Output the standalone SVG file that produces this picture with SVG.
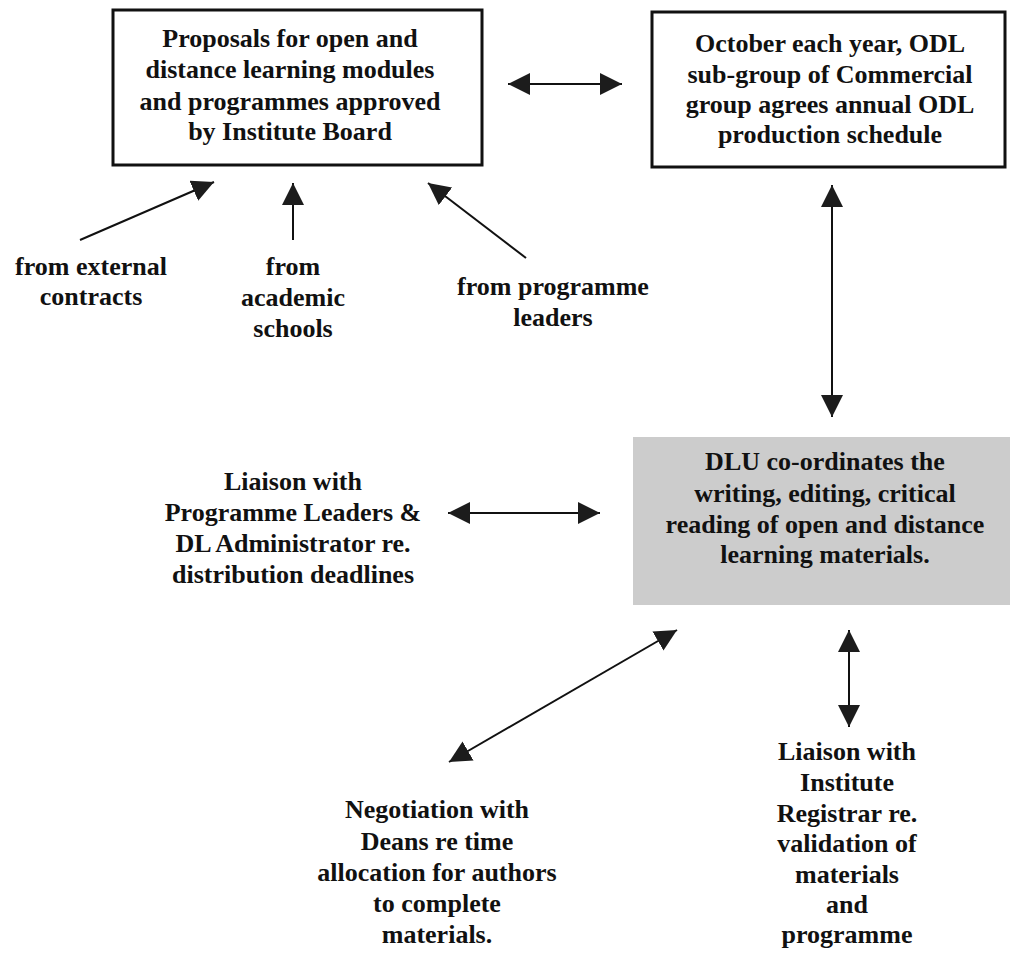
<svg xmlns="http://www.w3.org/2000/svg" width="1010" height="954" viewBox="0 0 1010 954">
  <style>
    text { font-family: "Liberation Serif", "Times New Roman", serif; font-weight: bold; font-size: 26px; fill: #111; text-anchor: middle; }
    .box { fill: #ffffff; stroke: #111; stroke-width: 3; }
    .shade { fill: #cccccc; }
    .link { stroke: #111; stroke-width: 2; fill: none; }
    .one { marker-end: url(#head); }
    .two { marker-start: url(#head); marker-end: url(#head); }
  </style>
  <defs>
    <marker id="head" markerUnits="userSpaceOnUse" markerWidth="22" markerHeight="22" viewBox="0 0 20 20" refX="20" refY="10" orient="auto-start-reverse">
      <path d="M0,0 L20,10 L0,20 z" fill="#1c1c1c"/>
    </marker>
  </defs>
  <rect width="1010" height="954" fill="#ffffff"/>

  <g id="connectors">
    <line class="link two" x1="508" y1="84" x2="622" y2="84"/>
    <line class="link one" x1="80" y1="240" x2="214" y2="182"/>
    <line class="link one" x1="293" y1="240" x2="293" y2="183"/>
    <line class="link one" x1="526" y1="258" x2="428" y2="183"/>
    <line class="link two" x1="832" y1="185" x2="832" y2="417"/>
    <line class="link two" x1="448" y1="513" x2="600" y2="513"/>
    <line class="link two" x1="449" y1="762" x2="677" y2="630"/>
    <line class="link two" x1="849" y1="630" x2="849" y2="727"/>
  </g>

  <g id="proposals">
    <rect class="box" x="113" y="10" width="369" height="155"/>
    <text x="290" y="47">Proposals for open and</text>
    <text x="290" y="78">distance learning modules</text>
    <text x="290" y="110">and programmes approved</text>
    <text x="290" y="140">by Institute Board</text>
  </g>

  <g id="schedule">
    <rect class="box" x="652" y="12" width="353" height="155"/>
    <text x="830" y="52">October each year, ODL</text>
    <text x="830" y="83">sub-group of Commercial</text>
    <text x="830" y="113">group agrees annual ODL</text>
    <text x="830" y="143">production schedule</text>
  </g>

  <g id="external">
    <text x="91" y="275">from external</text>
    <text x="91" y="305">contracts</text>
  </g>

  <g id="academic">
    <text x="293" y="275">from</text>
    <text x="293" y="306">academic</text>
    <text x="293" y="337">schools</text>
  </g>

  <g id="leaders">
    <text x="553" y="295">from programme</text>
    <text x="553" y="326">leaders</text>
  </g>

  <g id="dlu">
    <rect class="shade" x="633" y="437" width="377" height="168"/>
    <text x="825" y="470">DLU co-ordinates the</text>
    <text x="825" y="502">writing, editing, critical</text>
    <text x="825" y="533">reading of open and distance</text>
    <text x="825" y="563">learning materials.</text>
  </g>

  <g id="liaison-leaders">
    <text x="293" y="490">Liaison with</text>
    <text x="293" y="521">Programme Leaders &amp;</text>
    <text x="293" y="552">DL Administrator re.</text>
    <text x="293" y="583">distribution deadlines</text>
  </g>

  <g id="negotiation">
    <text x="437" y="818">Negotiation with</text>
    <text x="437" y="850">Deans re time</text>
    <text x="437" y="881">allocation for authors</text>
    <text x="437" y="912">to complete</text>
    <text x="437" y="943">materials.</text>
  </g>

  <g id="registrar">
    <text x="847" y="760">Liaison with</text>
    <text x="847" y="791">Institute</text>
    <text x="847" y="822">Registrar re.</text>
    <text x="847" y="852">validation of</text>
    <text x="847" y="883">materials</text>
    <text x="847" y="913">and</text>
    <text x="847" y="943">programme</text>
  </g>
</svg>
